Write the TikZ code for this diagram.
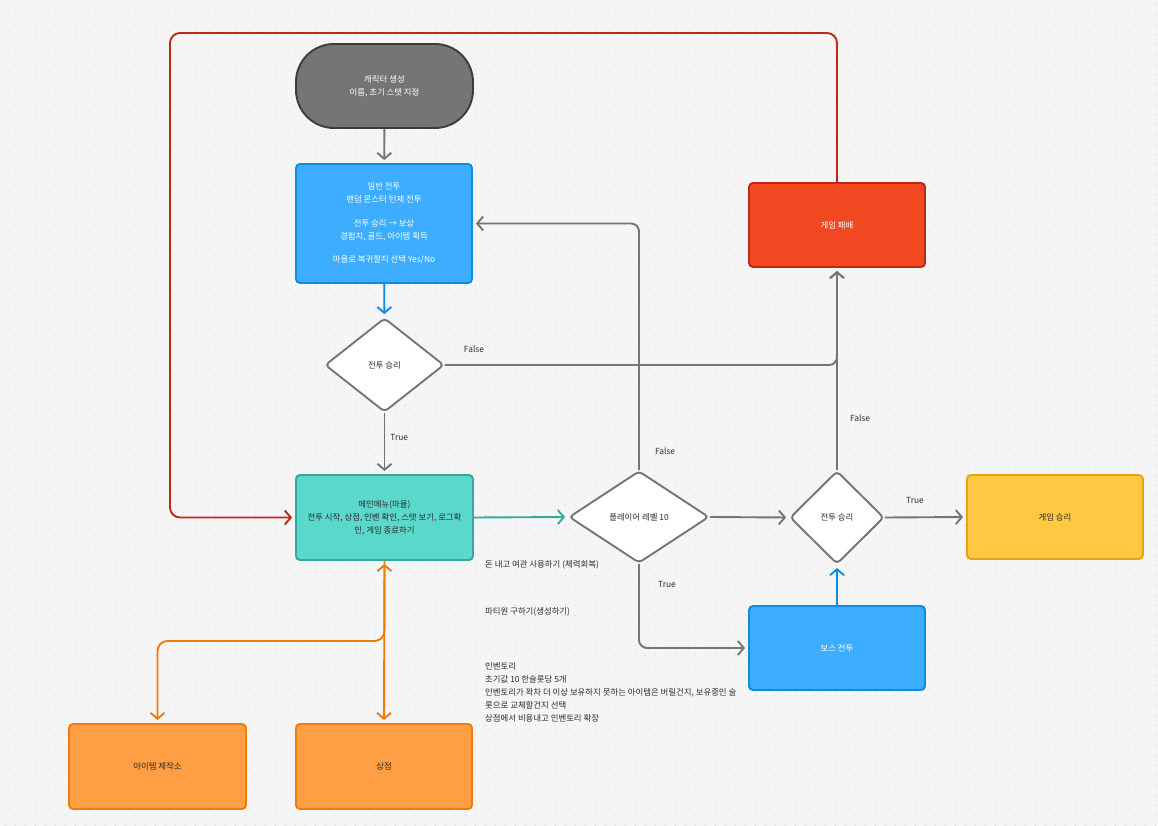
\documentclass[tikz,border=0pt]{standalone}
\usepackage{fontspec}
\setmainfont{Noto Sans CJK KR}
\usetikzlibrary{shapes.geometric,arrows.meta}
\definecolor{bgc}{HTML}{F5F5F5}
\definecolor{dotc}{HTML}{D6D6D6}
\definecolor{txt}{HTML}{2B2B2B}
\definecolor{gline}{HTML}{757575}
\definecolor{startfill}{HTML}{757575}
\definecolor{startdraw}{HTML}{3C3C3C}
\definecolor{bluefill}{HTML}{3DADFF}
\definecolor{bluedraw}{HTML}{0D8CE0}
\definecolor{tealfill}{HTML}{5AD8CC}
\definecolor{tealdraw}{HTML}{36A89D}
\definecolor{redfill}{HTML}{F24822}
\definecolor{reddraw}{HTML}{BD2915}
\definecolor{yelfill}{HTML}{FFC843}
\definecolor{yeldraw}{HTML}{E8A30F}
\definecolor{orfill}{HTML}{FF9E42}
\definecolor{ordraw}{HTML}{F07A0C}
\begin{document}
\begin{tikzpicture}[x=1pt,y=-1pt,
  font=\fontsize{8.4}{13}\selectfont,
  box/.style={draw, line width=1.9pt, rounded corners=4pt, minimum width=176pt, minimum height=84pt, align=center, inner sep=2pt},
  dia/.style={diamond, draw=gline, fill=white, line width=1.9pt, rounded corners=4pt, inner sep=0pt, aspect=1, align=center, text=txt},
  conn/.style={line width=1.9pt, -{Straight Barb[length=6pt,width=14pt]}, shorten >=3pt},
  lbl/.style={text=txt, inner sep=0pt},
  note/.style={text=txt, inner sep=0pt, anchor=west, align=left}]
\useasboundingbox (0,0) rectangle (1158,826);
\fill[bgc] (0,0) rectangle (1158,826);
\foreach \yy in {5,15,...,825} \draw[dotc, line width=1pt, dash pattern=on 1pt off 9pt] (4.5,\yy) -- (1158,\yy);

% nodes
\node[box, draw=startdraw, fill=startfill, text=white, rounded corners=38pt, minimum width=177pt] (start) at (384.5,86) {캐릭터 생성\\이름, 초기 스탯 지정};
\node[box, draw=bluedraw, fill=bluefill, text=white, minimum height=119pt] (battle) at (384,223.5) {일반 전투\\랜덤 몬스터 턴제 전투\\[10.5pt]전투 승리 → 보상\\경험치, 골드, 아이템 획득\\[10.5pt]마을로 복귀할지 선택 Yes/No};
\node[dia, minimum width=119pt, minimum height=94pt] (d1) at (384.5,365) {전투 승리};
\node[box, draw=tealdraw, fill=tealfill, text=txt, minimum width=177pt, minimum height=85pt] (menu) at (384.5,517.5) {메인메뉴(마을)\\전투 시작, 상점, 인벤 확인, 스탯 보기, 로그확\\인, 게임 종료하기};
\node[dia, minimum width=140pt, minimum height=92pt] (d2) at (639,517) {플레이어 레벨 10};
\node[dia, minimum width=94pt, minimum height=93pt] (d3) at (837,517.5) {전투 승리};
\node[box, draw=reddraw, fill=redfill, text=white] (lose) at (837,225) {게임 패배};
\node[box, draw=yeldraw, fill=yelfill, text=txt] (win) at (1055,517) {게임 승리};
\node[box, draw=bluedraw, fill=bluefill, text=white] (boss) at (837,648) {보스 전투};
\node[box, draw=ordraw, fill=orfill, text=txt, minimum width=177pt, minimum height=85pt] (craft) at (157.5,766.5) {아이템 제작소};
\node[box, draw=ordraw, fill=orfill, text=txt, minimum height=85pt] (shop) at (384,766.5) {상점};

% notes
\node[note] (n1) at (485,565) {돈 내고 여관 사용하기 (체력회복)};
\node[note] (n2) at (485,612) {파티원 구하기(생성하기)};
\node[note, anchor=north west] (n3) at (485,662.5) {인벤토리\\초기값 10 한슬롯당 5개\\인벤토리가 꽉차 더 이상 보유하지 못하는 아이템은 버릴건지, 보유중인 슬\\롯으로 교체할건지 선택\\상점에서 비용내고 인벤토리 확장};

% connectors
\draw[conn, gline] (start) -- (battle);
\draw[conn, bluedraw] (battle) -- (d1);
\draw[conn, gline] (d1) -- (menu) node[lbl, pos=0.4, right=5pt] (t1) {True};
\draw[conn, gline, rounded corners=8pt] (d1.east) -| (lose.south);
\node[lbl] (f1) at (474,349) {False};
\draw[conn, tealdraw] (menu.east) -- (d2.west);
\draw[conn, gline, rounded corners=8pt] (d2.north) |- (battle.east);
\node[lbl] (f2) at (665,451) {False};
\draw[conn, gline] (d2.east) -- (d3.west);
\draw[conn, gline, rounded corners=8pt] (d2.south) |- (boss.west);
\node[lbl] (t2) at (667,584) {True};
\draw[conn, bluedraw] (boss) -- (d3);
\draw[conn, gline] (d3.north) -- (lose.south);
\node[lbl] (f3) at (860,418) {False};
\draw[conn, gline] (d3.east) -- (win.west);
\node[lbl] (t3) at (915,500) {True};
\draw[conn, reddraw, rounded corners=10pt] (lose.north) -- (837,33) -- (170,33) -- (170,517.5) -- (menu.west);
\draw[conn, ordraw, {Straight Barb[length=6pt,width=14pt]}-{Straight Barb[length=6pt,width=14pt]}, shorten <=3pt] (menu.south) -- (shop.north);
\coordinate (br) at (384,641);
\draw[conn, ordraw, rounded corners=10pt] (menu.south) |- (craft.north |- br) -- (craft.north);
\end{tikzpicture}
\end{document}
